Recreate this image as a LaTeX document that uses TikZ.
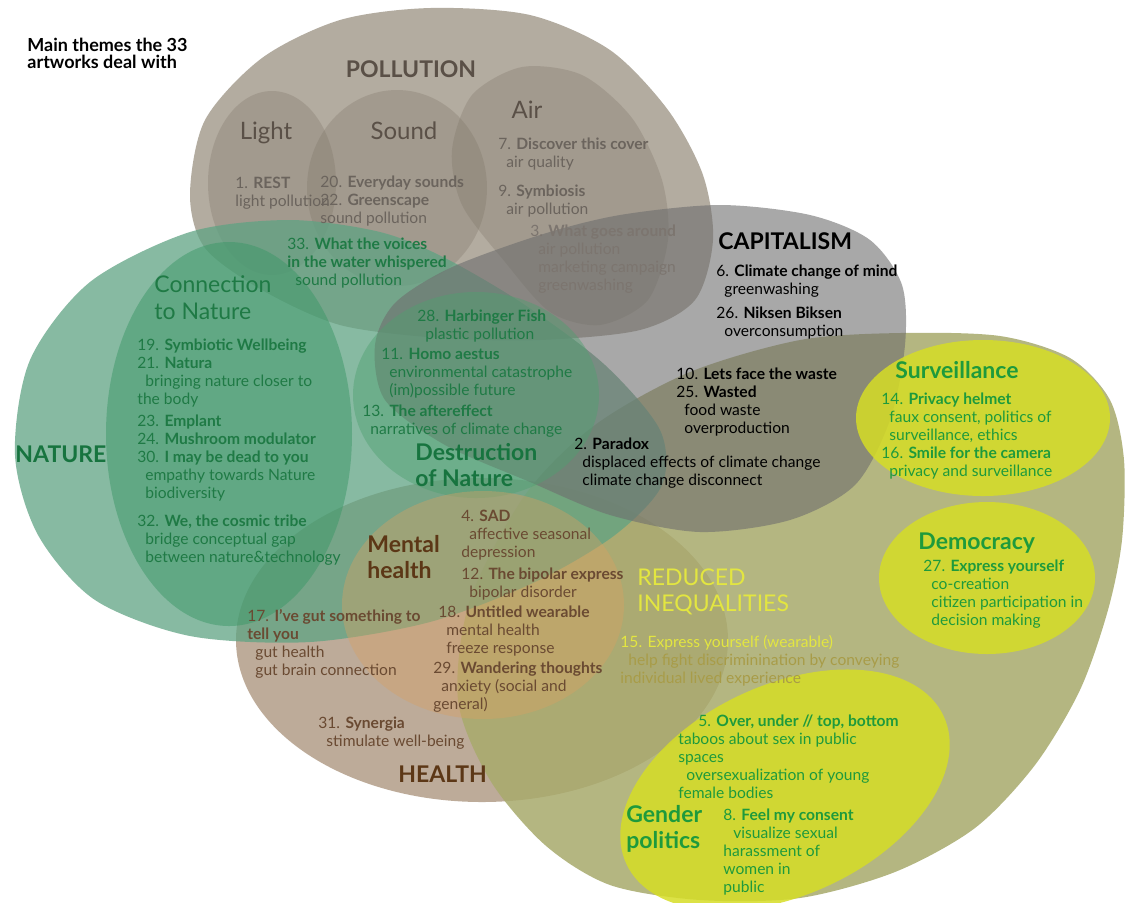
\documentclass[tikz,border=0pt]{standalone}
\usepackage{fontspec}
\setmainfont{Lato}
\usepackage{tikz}
\usetikzlibrary{positioning}

\definecolor{pollc}{HTML}{A69E90}
\definecolor{subc}{HTML}{7D7366}
\definecolor{naturec}{HTML}{5FA383}
\definecolor{connc}{HTML}{3C9868}
\definecolor{capc}{HTML}{6E6E6E}
\definecolor{destc}{HTML}{4FA070}
\definecolor{healthc}{HTML}{A89078}
\definecolor{redc}{HTML}{A8AA6C}
\definecolor{mentalc}{HTML}{D8A062}
\definecolor{yelc}{HTML}{D6DD26}
\definecolor{polltxt}{HTML}{6B645D}
\definecolor{pollhead}{HTML}{5A5047}
\definecolor{faded}{HTML}{7C756F}
\definecolor{greentxt}{HTML}{1F7A45}
\definecolor{greenhead}{HTML}{17743F}
\definecolor{browntxt}{HTML}{6A4A32}
\definecolor{brownhead}{HTML}{5C3716}
\definecolor{brighttxt}{HTML}{1E9A3C}
\definecolor{reducedtxt}{HTML}{E3E640}
\definecolor{reduceddesc}{HTML}{A89C48}

\newcommand{\ind}{\hspace*{4pt}}

\begin{document}
\begin{tikzpicture}[x=0.5pt,y=-0.5pt,
    txt/.style={anchor=base west,align=left,inner sep=0pt,font=\fontsize{7.8}{9}\selectfont},
    head/.style={anchor=base west,align=left,inner sep=0pt,font=\bfseries\fontsize{11.5}{13}\selectfont},
    sub/.style={anchor=base,inner sep=0pt,font=\fontsize{12}{13}\selectfont}]
    \fill[white] (0,0) rectangle (1125,902);
    \useasboundingbox (0,0) rectangle (1125,902);

    % health, under reduced inequalities
    \fill[healthc,fill opacity=.75] (482,640) ellipse [x radius=246,y radius=162];
    \fill[redc,fill opacity=.85] plot[smooth cycle] coordinates {(800,340) (900,333) (1000,336) (1070,358) (1110,400) (1124,460) (1122,540) (1108,610) (1080,690) (1035,765) (975,828) (895,872) (800,898) (700,900) (610,885) (545,845) (490,780) (458,700) (470,600) (525,495) (595,425) (690,372)};

    % pollution and its parts
    \fill[pollc,fill opacity=.85] plot[smooth cycle] coordinates {(190,195) (205,120) (262,58) (340,20) (430,8) (530,15) (610,50) (668,110) (703,175) (713,240) (695,300) (640,330) (540,340) (440,338) (340,325) (262,290) (205,248)};
    \fill[subc,fill opacity=.3] (272,183) ellipse [x radius=64,y radius=92];
    \fill[subc,fill opacity=.3] (397,188) ellipse [x radius=90,y radius=98];
    \fill[subc,fill opacity=.3] plot[smooth cycle] coordinates {(452,150) (472,95) (522,67) (582,75) (632,118) (662,180) (668,240) (648,300) (600,325) (550,312) (505,262) (462,205)};

    % nature
    \fill[naturec,fill opacity=.75] plot[smooth cycle] coordinates {(15,455) (30,360) (90,282) (190,232) (290,220) (380,232) (445,258) (525,305) (605,365) (660,430) (662,485) (615,535) (535,582) (430,622) (310,642) (190,636) (95,600) (38,535)};
    \fill[connc,fill opacity=.5] (229,434) ellipse [x radius=123,y radius=192];

    % capitalism
    \fill[capc,fill opacity=.6] plot[smooth cycle] coordinates {(375,345) (395,303) (450,268) (540,235) (620,215) (720,205) (810,215) (870,240) (902,285) (905,345) (890,420) (855,485) (790,520) (700,532) (610,515) (530,482) (445,445) (385,400)};
    \fill[destc,fill opacity=.45] (476,395) ellipse [x radius=123,y radius=103];

    % mental health and the yellow themes
    \fill[mentalc,fill opacity=.4] (483,605) ellipse [x radius=141,y radius=114];
    \fill[yelc,fill opacity=.85] (983,418) ellipse [x radius=127,y radius=78];
    \fill[yelc,fill opacity=.85] (987,578) ellipse [x radius=108,y radius=76];
    \fill[yelc,fill opacity=.85,rotate around={25:(785,790)}] (785,790) ellipse [x radius=175,y radius=105];

    % texts (base = last line)
    \node[txt,font=\bfseries\fontsize{9}{8.5}\selectfont] (themes) at (27,68) {Main themes the 33\\artworks deal with};

    \node[head,anchor=base,pollhead] (pollution) at (411,77) {POLLUTION};
    \node[sub,pollhead] (light) at (266,139) {Light};
    \node[sub,pollhead] (sound) at (404,139) {Sound};
    \node[sub,pollhead] (air) at (527,118) {Air};
    \node[txt,polltxt] (rest) at (235,206) {1. \textbf{REST}\\light pollution};
    \node[txt,polltxt] (everyday) at (320,223) {20. \textbf{Everyday sounds}\\22. \textbf{Greenscape}\\sound pollution};
    \node[txt,polltxt] (discover) at (498,167) {7. \textbf{Discover this cover}\\\ind air quality};
    \node[txt,polltxt] (symbiosis) at (498,214) {9. \textbf{Symbiosis}\\\ind air pollution};
    \node[txt,faded] (goes) at (530,290) {3. \textbf{What goes around}\\\ind air pollution\\\ind marketing campaign\\\ind greenwashing};
    \node[txt,greentxt] (voices) at (287,285) {33. \textbf{What the voices}\\\textbf{in the water whispered}\\\ind sound pollution};

    \node[head,greenhead] (nature) at (15,462) {NATURE};
    \node[head,font=\fontsize{11.5}{13.5}\selectfont,greentxt] (connection) at (154,319) {Connection\\to Nature};
    \node[txt,greentxt] (symbiotic) at (137,404) {19. \textbf{Symbiotic Wellbeing}\\21. \textbf{Natura}\\\ind bringing nature closer to\\the body};
    \node[txt,greentxt] (emplant) at (137,498) {23. \textbf{Emplant}\\24. \textbf{Mushroom modulator}\\30. \textbf{I may be dead to you}\\\ind empathy towards Nature\\\ind biodiversity};
    \node[txt,greentxt] (cosmic) at (137,562) {32. \textbf{We, the cosmic tribe}\\\ind bridge conceptual gap\\\ind between nature\&technology};
    \node[txt,greentxt] (harbinger) at (417,339) {28. \textbf{Harbinger Fish}\\\ind plastic pollution};
    \node[txt,greentxt] (homo) at (381,395) {11. \textbf{Homo aestus}\\\ind environmental catastrophe\\\ind (im)possible future};
    \node[txt,greentxt] (aftereffect) at (362,434) {13. \textbf{The aftereffect}\\\ind narratives of climate change};
    \node[head,greenhead] (destruction) at (415,486) {Destruction\\of Nature};

    \node[head,black] (capitalism) at (718,249) {CAPITALISM};
    \node[txt,black] (mind) at (716,294) {6. \textbf{Climate change of mind}\\\ind greenwashing};
    \node[txt,black] (niksen) at (716,336) {26. \textbf{Niksen Biksen}\\\ind overconsumption};
    \node[txt,black] (waste) at (676,433) {10. \textbf{Lets face the waste}\\25. \textbf{Wasted}\\\ind food waste\\\ind overproduction};
    \node[txt,black] (paradox) at (574,485) {2. \textbf{Paradox}\\\ind displaced effects of climate change\\\ind climate change disconnect};

    \node[head,brighttxt] (surveillance) at (895,378) {Surveillance};
    \node[txt,brighttxt] (helmet) at (881,476) {14. \textbf{Privacy helmet}\\\ind faux consent, politics of\\\ind surveillance, ethics\\16. \textbf{Smile for the camera}\\\ind privacy and surveillance};
    \node[head,brighttxt] (democracy) at (918,549) {Democracy};
    \node[txt,brighttxt] (express) at (923,625) {27. \textbf{Express yourself}\\\ind co-creation\\\ind citizen participation in\\\ind decision making};

    \node[head,font=\fontsize{11.5}{13}\selectfont,reducedtxt] (reduced) at (637,611) {REDUCED\\INEQUALITIES};
    \node[txt,reduceddesc] (wearable) at (620,683) {\textcolor{reducedtxt}{15. Express yourself (wearable)}\\\ind help fight discriminination by conveying\\individual lived experience};

    \node[head,brownhead] (mental) at (367,578) {Mental\\health};
    \node[txt,browntxt] (sad) at (461,557) {4. \textbf{SAD}\\\ind affective seasonal\\depression};
    \node[txt,browntxt] (bipolar) at (461,597) {12. \textbf{The bipolar express}\\\ind bipolar disorder};
    \node[txt,browntxt] (untitled) at (438,653) {18. \textbf{Untitled wearable}\\\ind mental health\\\ind freeze response};
    \node[txt,browntxt] (wandering) at (433,709) {29. \textbf{Wandering thoughts}\\\ind anxiety (social and\\general)};
    \node[txt,browntxt] (gut) at (247,675) {17. \textbf{I've gut something to}\\\textbf{tell you}\\\ind gut health\\\ind gut brain connection};
    \node[txt,browntxt] (synergia) at (318,746) {31. \textbf{Synergia}\\\ind stimulate well-being};
    \node[head,brownhead] (health) at (398,782) {HEALTH};

    \node[txt,brighttxt] (overunder) at (678,798) {\hspace*{10pt}5. \textbf{Over, under // top, bottom}\\taboos about sex in public\\spaces\\\ind oversexualization of young\\female bodies};
    \node[head,brighttxt] (gender) at (626,848) {Gender\\politics};
    \node[txt,brighttxt] (consent) at (723,892) {8. \textbf{Feel my consent}\\\hspace*{5pt}visualize sexual\\harassment of\\women in\\public};
\end{tikzpicture}
\end{document}
